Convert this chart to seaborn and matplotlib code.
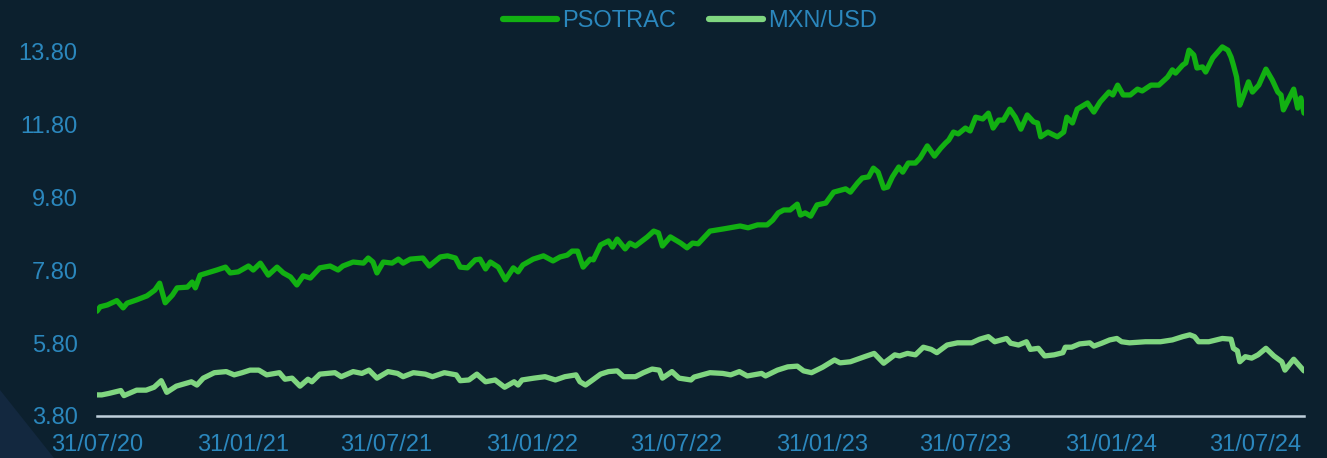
import matplotlib
matplotlib.use("Agg")
import matplotlib.pyplot as plt
import matplotlib.dates as mdates
from matplotlib.lines import Line2D
from matplotlib.patches import Polygon
import numpy as np
import pandas as pd
import seaborn as sns

# ---------------- data ----------------
start_date = "2020-07-31"
series_names = ["PSOTRAC", "MXN/USD"]

psotrac_days = [0,4,13,25,33,38,50,63,73,79,
    86,95,101,114,120,124,130,139,151,162,
    168,178,191,197,206,216,227,235,244,252,
    260,269,281,294,304,310,323,336,342,348,
    353,361,372,380,386,395,411,419,433,442,
    452,458,467,477,483,490,496,506,515,525,
    531,537,550,563,575,584,593,599,606,613,
    622,626,635,645,650,656,666,672,679,694,
    702,708,713,723,736,744,751,758,773,790,
    811,821,833,845,852,859,866,874,883,887,
    893,900,908,919,929,944,950,959,965,973,
    979,985,992,997,1003,1011,1016,1023,1032,1038,
    1047,1056,1064,1070,1074,1080,1086,1095,1101,1108,
    1117,1124,1130,1137,1143,1151,1158,1165,1173,1181,
    1186,1190,1199,1211,1219,1223,1230,1236,1249,1257,
    1265,1276,1281,1287,1294,1303,1312,1318,1329,1339,
    1350,1356,1360,1369,1373,1377,1383,1387,1394,1398,
    1407,1419,1426,1430,1433,1437,1441,1446,1452,1457,
    1465,1474,1482,1489,1493,1496,1501,1509,1514,1518,1522]
psotrac_values = [6.68,6.80,6.85,6.97,6.77,6.90,6.99,7.10,7.26,7.45,
    6.91,7.12,7.32,7.34,7.48,7.32,7.67,7.73,7.81,7.89,
    7.73,7.76,7.92,7.81,8.00,7.67,7.89,7.73,7.62,7.40,
    7.65,7.59,7.87,7.92,7.81,7.92,8.03,8.00,8.14,8.03,
    7.73,8.03,8.00,8.11,8.00,8.11,8.14,7.92,8.17,8.20,
    8.14,7.89,7.87,8.09,8.11,7.84,8.03,7.89,7.54,7.87,
    7.76,7.95,8.11,8.20,8.06,8.17,8.22,8.33,8.33,7.89,
    8.11,8.09,8.50,8.61,8.44,8.66,8.39,8.55,8.47,8.72,
    8.88,8.83,8.47,8.72,8.55,8.42,8.55,8.53,8.88,8.94,
    9.02,8.97,9.05,9.05,9.18,9.38,9.46,9.46,9.62,9.32,
    9.38,9.29,9.60,9.65,9.95,10.04,9.95,10.20,10.34,10.37,
    10.61,10.50,10.06,10.09,10.37,10.64,10.50,10.75,10.75,10.89,
    11.22,10.94,11.16,11.30,11.38,11.60,11.55,11.71,11.63,12.01,
    11.96,12.12,11.71,11.93,11.93,12.23,12.01,11.68,12.07,11.88,
    11.85,11.47,11.60,11.47,11.60,12.01,11.85,12.23,12.40,12.15,
    12.43,12.70,12.62,12.89,12.62,12.62,12.78,12.73,12.89,12.89,
    13.11,13.31,13.22,13.44,13.50,13.85,13.72,13.36,13.39,13.25,
    13.64,13.94,13.85,13.66,13.44,13.11,12.34,12.62,12.98,12.70,
    12.89,13.33,13.03,12.70,12.62,12.21,12.43,12.78,12.26,12.54,12.12]

mxn_days = [0,6,15,30,34,50,62,72,81,88,
    100,119,126,134,148,163,173,183,193,
    204,214,230,237,246,256,266,271,281,300,
    308,323,334,343,353,367,379,386,399,414,
    423,438,453,458,469,479,490,502,514,526,
    531,536,551,565,578,590,604,609,616,625,
    635,645,656,664,679,689,700,709,713,725,734,749,
    753,773,789,799,810,820,838,843,858,871,
    883,891,901,915,930,937,950,968,980,992,
    1006,1012,1022,1032,1042,1052,1059,1072,1085,1103,
    1113,1124,1132,1147,1152,1162,1172,1177,1187,1195,
    1207,1218,1221,1229,1239,1252,1257,1267,1277,1286,
    1292,1302,1322,1341,1356,1369,1378,1384,1389,1402,
    1419,1430,1433,1438,1441,1448,1456,1464,1474,1484,1494,1498,1509,1522]
mxn_values = [4.38,4.38,4.42,4.50,4.36,4.51,4.51,4.59,4.77,4.45,
    4.62,4.74,4.65,4.84,4.99,5.02,4.93,4.99,5.06,
    5.06,4.93,4.99,4.81,4.84,4.62,4.81,4.74,4.95,4.99,
    4.88,5.02,4.97,5.06,4.84,5.02,4.97,4.88,4.99,4.95,
    4.88,4.99,4.93,4.77,4.79,4.95,4.74,4.79,4.59,4.74,
    4.65,4.79,4.84,4.88,4.79,4.88,4.93,4.74,4.65,4.79,
    4.95,5.02,5.04,4.88,4.88,4.99,5.09,5.06,4.84,5.02,4.84,4.79,
    4.87,4.99,4.97,4.93,5.02,4.90,4.97,4.90,5.06,5.15,
    5.17,5.04,4.99,5.14,5.34,5.26,5.29,5.43,5.52,5.25,
    5.48,5.45,5.52,5.48,5.69,5.63,5.54,5.75,5.81,5.81,
    5.91,5.98,5.84,5.93,5.80,5.75,5.84,5.63,5.66,5.45,
    5.48,5.54,5.69,5.69,5.78,5.81,5.72,5.80,5.89,5.93,
    5.84,5.81,5.84,5.84,5.89,5.98,6.03,5.98,5.84,5.84,
    5.93,5.91,5.66,5.59,5.29,5.43,5.39,5.48,5.66,5.45,5.29,5.06,5.36,5.04]

x_tick_dates = ["2020-07-31", "2021-01-31", "2021-07-31", "2022-01-31", "2022-07-31",
                "2023-01-31", "2023-07-31", "2024-01-31", "2024-07-31"]
y_ticks = [3.80, 5.80, 7.80, 9.80, 11.80, 13.80]

# ---------------- build table ----------------
t0 = pd.Timestamp(start_date)
df = pd.concat([
    pd.DataFrame({"date": t0 + pd.to_timedelta(psotrac_days, unit="D"),
                  "value": psotrac_values, "series": series_names[0]}),
    pd.DataFrame({"date": t0 + pd.to_timedelta(mxn_days, unit="D"),
                  "value": mxn_values, "series": series_names[1]}),
], ignore_index=True)

# ---------------- style ----------------
BG = "#0c202e"
TXT = "#2b87bd"
colors = {"PSOTRAC": "#12b012", "MXN/USD": "#80d680"}

sns.set_theme(style="white")
plt.rcParams["font.family"] = ["Liberation Sans", "DejaVu Sans"]

fig = plt.figure(figsize=(13.27, 4.58), dpi=100, facecolor=BG)
ax = fig.add_axes([97 / 1327, (458 - 416) / 458, (1304 - 97) / 1327, (416 - 30) / 458])
ax.set_facecolor(BG)

# decorative corner shape
fig.patches.append(Polygon([[0, 0], [0, 68 / 458], [54 / 1327, 0]], closed=True,
                           transform=fig.transFigure, facecolor="#13283f",
                           edgecolor="none", zorder=0))

sns.lineplot(data=df, x="date", y="value", hue="series", palette=colors,
             hue_order=series_names, estimator=None, sort=False,
             linewidth=3.8, legend=False, ax=ax)
for ln in ax.get_lines():
    ln.set_solid_joinstyle("round")
    ln.set_solid_capstyle("round")

ax.set_xlim(t0, t0 + pd.Timedelta(days=1522))
ax.set_ylim(3.80, 3.80 + 386 / 36.4)
ax.set_yticks(y_ticks)
ax.set_yticklabels([f"{v:.2f}" for v in y_ticks])
ticks = pd.to_datetime(x_tick_dates)
ax.set_xticks(ticks)
ax.set_xticklabels([d.strftime("%d/%m/%y") for d in ticks])

ax.set_xlabel("")
ax.set_ylabel("")
for s in ["top", "right", "left"]:
    ax.spines[s].set_visible(False)
ax.spines["bottom"].set_color("#c0d0dc")
ax.spines["bottom"].set_linewidth(1.8)
ax.tick_params(axis="x", length=0, pad=13, labelsize=17, labelcolor=TXT)
ax.tick_params(axis="y", length=0, pad=14, labelsize=17, labelcolor=TXT)
ax.grid(False)

handles = [Line2D([0], [0], color=colors[n], lw=4.5, solid_capstyle="round") for n in series_names]
leg = fig.legend(handles, series_names, loc="center", bbox_to_anchor=(690 / 1327, 1 - 21 / 458),
                 ncol=2, frameon=False, fontsize=17, handlelength=2.3, handletextpad=0.2,
                 columnspacing=1.4, labelcolor=TXT)

fig.savefig("out.png", dpi=100, facecolor=BG)
